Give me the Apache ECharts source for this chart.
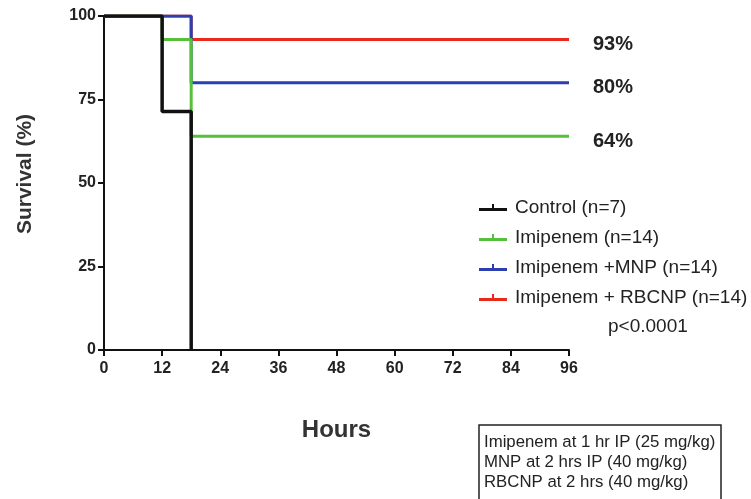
<!DOCTYPE html>
<html>
<head>
<meta charset="utf-8">
<script src="https://cdn.jsdelivr.net/npm/echarts@6/dist/echarts.min.js"></script>
<style>
  html, body { margin: 0; padding: 0; background: #fff; }
  #chart { width: 751px; height: 499px; }
</style>
</head>
<body>
<div id="chart"></div>
<script>
// Kaplan-Meier survival steps: event times (hours) and survival (%)
const controlTimes = [0, 12, 18];
const controlSurv = [100, 71.4, 0];
const imipenemTimes = [0, 12, 18, 96];
const imipenemSurv = [100, 93, 64, 64];
const mnpTimes = [0, 18, 96];
const mnpSurv = [100, 80, 80];
const rbcnpTimes = [0, 18, 96];
const rbcnpSurv = [100, 93, 93];

const seriesNames = ['Control (n=7)', 'Imipenem (n=14)', 'Imipenem +MNP (n=14)', 'Imipenem + RBCNP (n=14)'];
const seriesColors = ['#111111', '#55c13a', '#2b3fb0', '#e8291c'];
const xTicks = [0, 12, 24, 36, 48, 60, 72, 84, 96];
const yTicks = [0, 25, 50, 75, 100];

const FONT = '"Liberation Sans", Arial, sans-serif';

function pairs(t, s) { return t.map((x, i) => [x, s[i]]); }

const groups = [
  { times: rbcnpTimes, surv: rbcnpSurv, end: true },
  { times: mnpTimes, surv: mnpSurv, end: true },
  { times: imipenemTimes, surv: imipenemSurv, end: true },
  { times: controlTimes, surv: controlSurv, end: false }
];
const nameIdx = [3, 2, 1, 0];

const series = groups.map((g, k) => {
  const i = nameIdx[k];
  return {
    name: seriesNames[i],
    type: 'line',
    step: 'end',
    data: pairs(g.times, g.surv),
    showSymbol: false,
    symbol: 'none',
    lineStyle: { color: seriesColors[i], width: i === 0 ? 3.5 : 3 },
    itemStyle: { color: seriesColors[i] },
    z: 2 + k,
    animation: false,
    endLabel: g.end ? {
      show: true,
      distance: 24,
      offset: [0, 5],
      formatter: p => Math.round(p.value[1]) + '%',
      fontFamily: FONT,
      fontWeight: 'bold',
      fontSize: 20,
      color: '#222'
    } : { show: false }
  };
});

const chart = echarts.init(document.getElementById('chart'), null, { renderer: 'canvas' });
chart.setOption({
  animation: false,
  backgroundColor: '#ffffff',
  grid: { left: 104, right: 182, top: 16, bottom: 149, containLabel: false },
  xAxis: {
    type: 'value',
    min: 0, max: 96, interval: 12,
    name: 'Hours',
    nameLocation: 'middle',
    nameGap: 68,
    nameTextStyle: { fontFamily: FONT, fontWeight: 'bold', fontSize: 24, color: '#333' },
    axisLine: { show: true, lineStyle: { color: '#111', width: 2 } },
    axisTick: { show: true, length: 6, lineStyle: { color: '#111', width: 2 } },
    axisLabel: {
      fontFamily: FONT, fontWeight: 'bold', fontSize: 16, color: '#222', margin: 11,
      formatter: v => xTicks.includes(v) ? String(v) : ''
    },
    splitLine: { show: false }
  },
  yAxis: {
    type: 'value',
    min: 0, max: 100, interval: 25,
    name: 'Survival (%)',
    nameLocation: 'middle',
    nameGap: 68,
    nameRotate: 90,
    nameTextStyle: { fontFamily: FONT, fontWeight: 'bold', fontSize: 21, color: '#333', padding: [0, 0, 0, 18] },
    axisLine: { show: true, lineStyle: { color: '#111', width: 2 } },
    axisTick: { show: true, length: 6, lineStyle: { color: '#111', width: 2 } },
    axisLabel: {
      fontFamily: FONT, fontWeight: 'bold', fontSize: 16, color: '#222', margin: 8,
      formatter: v => yTicks.includes(v) ? String(v) : ''
    },
    splitLine: { show: false }
  },
  legend: {
    orient: 'vertical',
    left: 474,
    top: 193,
    itemGap: 11,
    itemWidth: 28,
    itemHeight: 10,
    data: seriesNames.map((n, i) => ({
      name: n,
      icon: 'path://M0,7 H28 V10 H0 Z M13,3 H15 V7 H13 Z',
      itemStyle: { color: seriesColors[i] }
    })),
    textStyle: { fontFamily: FONT, fontSize: 19, color: '#222', padding: [0, 0, 0, 3] },
    selectedMode: false
  },
  graphic: [
    {
      type: 'text', left: 608, top: 317,
      style: { text: 'p<0.0001', font: '19px ' + FONT, fill: '#222' }
    },
    {
      type: 'rect', shape: { x: 479, y: 425, width: 242, height: 90 },
      style: { fill: '#fff', stroke: '#222', lineWidth: 1.5 }
    },
    {
      type: 'text', left: 484, top: 432,
      style: {
        text: 'Imipenem at 1 hr IP (25 mg/kg)\nMNP at 2 hrs IP (40 mg/kg)\nRBCNP at 2 hrs (40 mg/kg)',
        font: '16.8px ' + FONT, fill: '#222', lineHeight: 20
      }
    }
  ],
  series: series
});
</script>
</body>
</html>
